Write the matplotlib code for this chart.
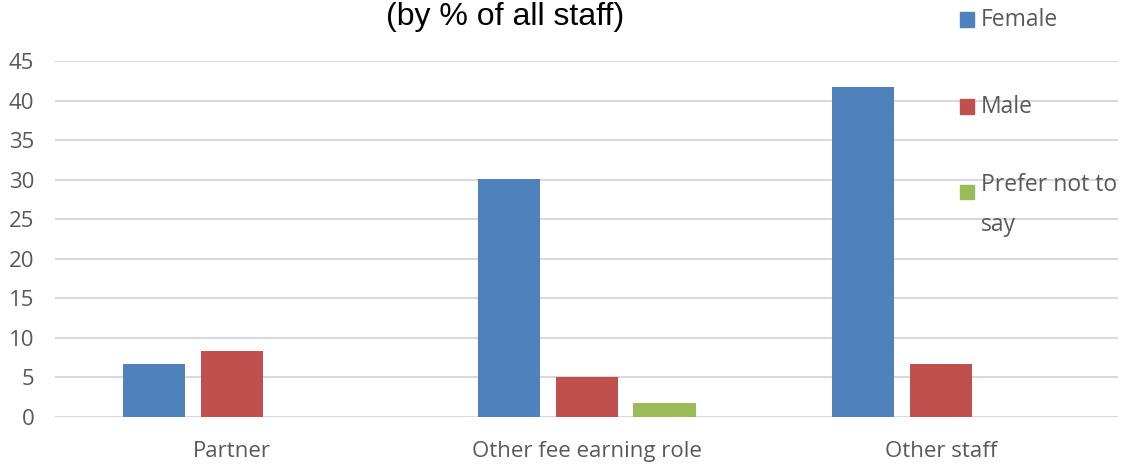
import matplotlib
matplotlib.use('Agg')
import numpy as np
from matplotlib import pyplot as plt
from matplotlib.patches import Rectangle

categories = ['Partner', 'Other fee earning role', 'Other staff']
female = [6.7, 30.1, 41.7]
male = [8.3, 5.05, 6.7]
prefer_not = [0, 1.8, 0]
series_names = ['Female', 'Male', 'Prefer not to\nsay']
colors = ['#4f81bd', '#c0504d', '#9bbb59']

plt.rcParams['font.family'] = ['Open Sans', 'DejaVu Sans']

fig = plt.figure(figsize=(11.23, 4.66), dpi=100)
ax = fig.add_axes([0.049, 0.1052, 0.9466, 0.7639])

x = np.arange(len(categories))
width = 0.175
offset = 0.22
for i, (vals, col) in enumerate(zip([female, male, prefer_not], colors)):
    ax.bar(x + (i - 1) * offset, vals, width, color=col, zorder=3)

ax.set_xlim(-0.5, 2.5)
ax.set_ylim(0, 45)
ax.set_yticks(range(0, 46, 5))
ax.set_xticks(x)
ax.set_xticklabels(categories)
ax.grid(axis='y', color='#d9d9d9', linewidth=1.5, zorder=0)
for s in ax.spines.values():
    s.set_visible(False)
ax.tick_params(axis='both', length=0, labelsize=16, colors='#595959')
ax.tick_params(axis='y', pad=15)
ax.tick_params(axis='x', pad=17)

fig.text(0.4497, 0.947, '(by % of all staff)', ha='center', va='baseline',
         fontsize=23, family='Liberation Sans', color='black')

# legend drawn by hand to follow the original spacing
leg_y = [0.958, 0.771, 0.588]
for name, col, yy in zip(series_names, colors, leg_y):
    fig.patches.append(Rectangle((0.855, yy - 0.016), 0.0125, 0.032,
                                 transform=fig.transFigure, color=col))
    if '\n' in name:
        fig.text(0.8735, yy + 0.04, name, va='top', fontsize=16.5,
                 color='#595959', linespacing=1.85)
    else:
        fig.text(0.8735, yy, name, va='center', fontsize=16.5, color='#595959')

fig.savefig('out.png', dpi=100)
